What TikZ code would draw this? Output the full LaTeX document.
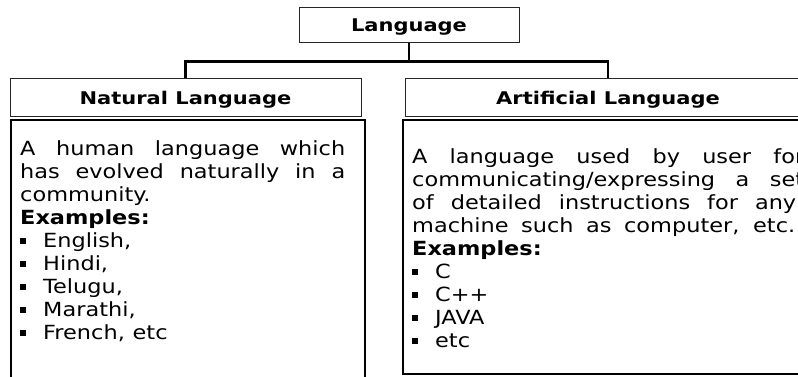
\documentclass[tikz,border=0pt]{standalone}
\usepackage{fontspec}
\setmainfont{DejaVu Sans}[FakeStretch=1.15,WordSpace=1.1]
\newfontfamily\titlefont{DejaVu Sans}[FakeStretch=1.2]
\newcommand{\bul}[1]{\makebox[23pt][l]{\raisebox{3.5pt}{\rule{6pt}{6pt}}}#1}
\begin{document}
\begin{tikzpicture}[x=1pt,y=-1pt,
  titlebox/.style={draw=black!85,line width=1pt,rectangle,inner sep=0pt,
    font=\titlefont\bfseries\fontsize{17.5}{20}\selectfont,text height=13pt,text depth=0pt},
  contentbox/.style={draw=black,line width=2pt,rectangle,inner sep=0pt},
  bodytext/.style={inner sep=0pt,align=left,font=\fontsize{19.5}{23}\selectfont,anchor=north west},
  conn/.style={draw=black,line width=2.6pt}]
\useasboundingbox (0,0) rectangle (798,377);
\clip (0,0) rectangle (798,377);
\node[titlebox,minimum width=220pt,minimum height=35pt] (lang) at (409,25.5) {Language};
\node[titlebox,minimum width=351pt,minimum height=38pt] (nat) at (185.5,98) {Natural Language};
\node[titlebox,minimum width=406pt,minimum height=38pt] (art) at (608,98) {Artificial Language};
\draw[conn] (lang.south) -- ++(0,18) coordinate (j);
\draw[conn] (nat.north) |- (j) -| (art.north);
\node[contentbox,minimum width=354pt,minimum height=280pt,anchor=north west] (natc) at (10,119) {};
\node[contentbox,minimum width=420pt,minimum height=254pt,anchor=north west] (artc) at (402,119) {};
\node[bodytext] (natt) at (20,140.5) {%
\makebox[325pt][s]{A human language which}\\
\makebox[325pt][s]{has evolved naturally in a}\\
community.\\
\textbf{Examples:}\\
\bul{English,}\\
\bul{Hindi,}\\
\bul{Telugu,}\\
\bul{Marathi,}\\
\bul{French, etc}};
\node[bodytext] (artt) at (412,148.5) {%
\makebox[392pt][s]{A language used by user for}\\
\makebox[392pt][s]{communicating/expressing a set}\\
\makebox[384pt][s]{of detailed instructions for any}\\
\makebox[383pt][s]{machine such as computer, etc.}\\
\textbf{Examples:}\\
\bul{C}\\
\bul{C++}\\
\bul{JAVA}\\
\bul{etc}};
\end{tikzpicture}
\end{document}
